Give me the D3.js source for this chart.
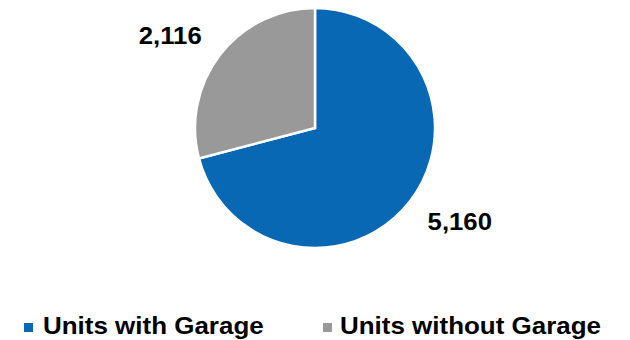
<!DOCTYPE html>
<html>
<head>
<meta charset="utf-8">
<script src="https://cdn.jsdelivr.net/npm/d3@7"></script>
<style>
  html, body { margin: 0; padding: 0; background: #fff; }
  svg { display: block; font-family: "Liberation Sans", Arial, sans-serif; }
</style>
</head>
<body>
<svg id="chart" width="630" height="340"></svg>
<script>
// Garage counts by unit type
const categories = ["Units with Garage", "Units without Garage"];
const values = [5160, 2116];
const colors = ["#0868B4", "#999999"];

const svg = d3.select("#chart");
const cx = 315, cy = 128, radius = 120;

const pie = d3.pie().sort(null).value(d => d.value);
const arcs = pie(categories.map((c, i) => ({ name: c, value: values[i] })));
const arc = d3.arc().innerRadius(0).outerRadius(radius);
const color = d3.scaleOrdinal().domain(categories).range(colors);
const fmt = d3.format(",");

// value labels sit outside the pie, nudged slightly counter-clockwise
const labelR = radius * 1.435;
const labelShift = 0.085;
function labelPos(d) {
  const a = (d.startAngle + d.endAngle) / 2 - labelShift;
  return [labelR * Math.sin(a), -labelR * Math.cos(a)];
}

const g = svg.append("g").attr("transform", `translate(${cx},${cy})`);

g.selectAll("path.slice")
  .data(arcs)
  .join("path")
  .attr("class", "slice")
  .attr("d", arc)
  .attr("fill", d => color(d.data.name))
  .attr("stroke", "#fff")
  .attr("stroke-width", 2.5)
  .attr("stroke-linejoin", "miter");

g.selectAll("text.value")
  .data(arcs)
  .join("text")
  .attr("class", "value")
  .attr("transform", d => `translate(${labelPos(d)}) scale(1.05,1)`)
  .attr("text-anchor", "middle")
  .attr("dy", "0.36em")
  .attr("font-size", 24.5)
  .attr("font-weight", "bold")
  .attr("fill", "#000")
  .text(d => fmt(d.data.value));

// Legend
const legendX = [24, 323];
const legend = svg.append("g").attr("class", "legend");
const items = legend.selectAll("g")
  .data(categories)
  .join("g")
  .attr("transform", (d, i) => `translate(${legendX[i]},0)`);

items.append("rect")
  .attr("x", 0).attr("y", 323)
  .attr("width", 9).attr("height", 9)
  .attr("fill", d => color(d));

items.append("text")
  .attr("transform", (d, i) => `translate(${i === 0 ? 19 : 17},334.3) scale(1.06,1)`)
  .attr("font-size", 24.5)
  .attr("font-weight", "bold")
  .attr("fill", "#000")
  .text(d => d);
</script>
</body>
</html>
